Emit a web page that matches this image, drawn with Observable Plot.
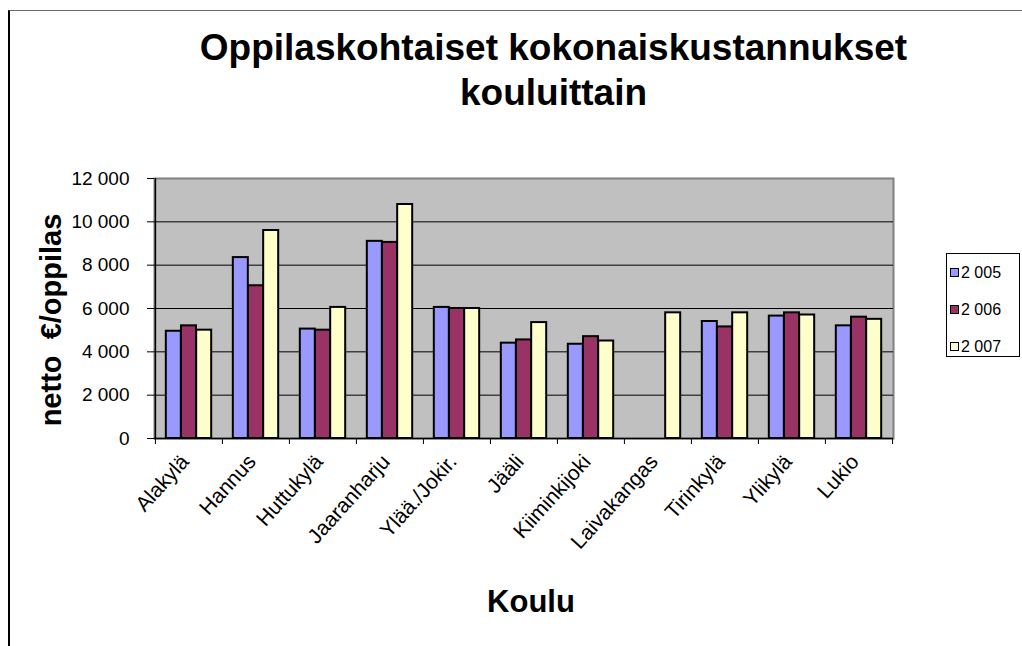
<!DOCTYPE html>
<html><head><meta charset="utf-8">
<script src="https://cdn.jsdelivr.net/npm/d3@7"></script>
<script src="https://cdn.jsdelivr.net/npm/@observablehq/plot@0.6"></script>
<style>
body{margin:0;background:#fff;overflow:hidden}
#wrap{position:relative;width:1022px;height:646px;font-family:"Liberation Sans",Arial,sans-serif;color:#000}
#border{position:absolute;left:8px;top:10px;width:1014px;height:636px;border-top:1px solid #666;border-left:2px solid #000;box-sizing:border-box}
#chart{position:absolute;left:0;top:0}
#title{position:absolute;left:100px;top:25px;width:907px;text-align:center;font-weight:bold;font-size:37px;line-height:45px}
#xlab{position:absolute;left:431px;top:586px;width:200px;text-align:center;font-weight:bold;font-size:31px;line-height:31px}
#ylab{position:absolute;left:51px;top:320px;transform:translate(-50%,-50%) rotate(-90deg);white-space:nowrap;font-weight:bold;font-size:29px;line-height:29px}
#legend{position:absolute;left:946px;top:253px;width:74px;height:104px;border:1px solid #000;box-sizing:border-box}
.item{position:absolute;left:3px;font-size:16px;line-height:16px;white-space:nowrap}
.sw{display:inline-block;width:7px;height:7px;border:1.5px solid #000;margin-right:2px;vertical-align:1px}
</style></head><body>
<div id="wrap">
 <div id="border"></div>
 <div id="title">Oppilaskohtaiset kokonaiskustannukset<br>kouluittain</div>
 <div id="chart"></div>
 <div id="ylab">netto&nbsp; €/oppilas</div>
 <div id="xlab">Koulu</div>
 <div id="legend"></div>
</div>
<script>
const schools = ["Alakylä","Hannus","Huttukylä","Jaaranharju","Ylää./Jokir.","Jääli","Kiiminkijoki","Laivakangas","Tirinkylä","Ylikylä","Lukio"];
const years = ["2 005","2 006","2 007"];
const v2005 = [4950, 8350, 5050, 9100, 6050, 4400, 4350, null, 5400, 5650, 5200];
const v2006 = [5200, 7050, 5000, 9050, 6000, 4550, 4700, null, 5150, 5800, 5600];
const v2007 = [5000, 9600, 6050, 10800, 6000, 5350, 4500, 5800, 5800, 5700, 5500];
const yTicks = [0, 2000, 4000, 6000, 8000, 10000, 12000];
const colors = ["#9999FF", "#993366", "#FFFFCC"];

const series = [v2005, v2006, v2007];
const rows = schools.flatMap((s, i) => series.map((vals, k) => ({school: s, year: years[k], k, value: vals[i]}))).filter(d => d.value != null);

const W = 1022, H = 646, mL = 154, mR = 129, mT = 178, mB = 208;
const bw = (W - mL - mR) / schools.length;
const barW = bw * 0.226, pad = (bw - 3 * barW) / 2;
const fmt = d => d3.format(",")(d).replace(/,/g, " ");

const chart = Plot.plot({
  width: W, height: H, marginLeft: mL, marginRight: mR, marginTop: mT, marginBottom: mB,
  style: {fontFamily: "Liberation Sans, Arial, sans-serif", fontSize: "18px", color: "black", background: "transparent", overflow: "visible"},
  x: {type: "band", domain: schools, padding: 0, axis: null, label: null},
  y: {domain: [0, 12000], axis: null, label: null},
  marks: [
    Plot.frame({fill: "#C0C0C0", stroke: "#808080", strokeWidth: 2}),
    Plot.ruleY(yTicks.filter(t => t > 0 && t < 12000), {stroke: "black", strokeWidth: 1}),
    ...years.map((yr, k) => Plot.barY(rows.filter(d => d.k === k), {
      x: "school", y: "value", fill: colors[k], stroke: "black", strokeWidth: 2,
      insetLeft: pad + k * barW, insetRight: bw - pad - (k + 1) * barW
    })),
    Plot.ruleY([0], {stroke: "black", strokeWidth: 1.5}),
    Plot.ruleX([schools[0]], {x: d => d, dx: -bw / 2, stroke: "black", strokeWidth: 1.5}),
    Plot.ruleX(schools, {x: d => d, dx: -bw / 2, y1: 0, y2: 0, insetBottom: -6, stroke: "black"}),
    Plot.ruleX([schools[schools.length - 1]], {x: d => d, dx: bw / 2, y1: 0, y2: 0, insetBottom: -6, stroke: "black"}),
    Plot.axisY(yTicks, {anchor: "left", label: null, tickSize: 7, tickPadding: 18, tickFormat: fmt, stroke: "black", fill: "black", fontSize: 19}),
    Plot.text(schools, {x: d => d, frameAnchor: "bottom", rotate: -48, textAnchor: "end", dx: 1, dy: 24, fontSize: 21, fill: "black"})
  ]
});
document.getElementById("chart").appendChild(chart);

const legend = document.getElementById("legend");
const tops = [11, 48, 85];
years.forEach((yr, k) => {
  const it = document.createElement("div");
  it.className = "item";
  it.style.top = tops[k] + "px";
  it.innerHTML = `<span class="sw" style="background:${colors[k]}"></span>${yr}`;
  legend.appendChild(it);
});
</script>
</body></html>
